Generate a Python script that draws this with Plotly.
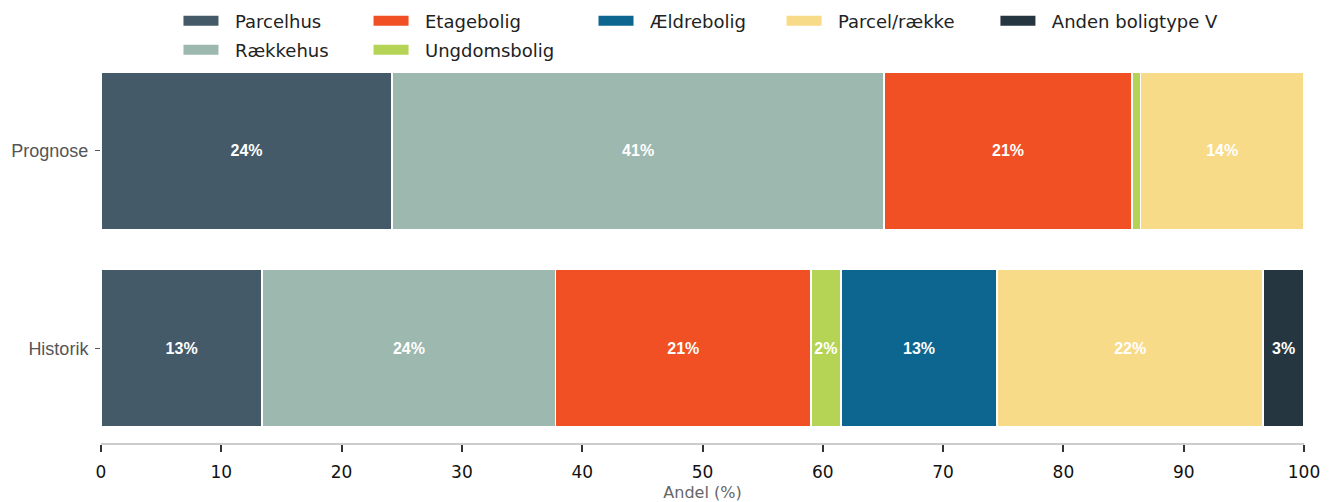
import plotly.graph_objects as go

periods = ["Prognose", "Historik"]
types = ["Parcelhus", "Rækkehus", "Etagebolig", "Ungdomsbolig", "Ældrebolig", "Parcel/række", "Anden boligtype V"]
prognose = [24.2, 40.9, 20.6, 0.7, 0.0, 13.6, 0.0]
historik = [13.4, 24.4, 21.2, 2.5, 13.0, 22.1, 3.4]
colors = ["#445a69", "#9db8af", "#f05023", "#b5d455", "#0c6690", "#f8db88", "#263640"]
x_ticks = [0, 10, 20, 30, 40, 50, 60, 70, 80, 90, 100]

# legend slot per type (matplotlib column-major layout, 5 columns)
legend_pos = {
    "Parcelhus": (0.0644, 1.0793),
    "Rækkehus": (0.0644, 1.0051),
    "Etagebolig": (0.2224, 1.0793),
    "Ungdomsbolig": (0.2224, 1.0051),
    "Ældrebolig": (0.4094, 1.0793),
    "Parcel/række": (0.5657, 1.0793),
    "Anden boligtype V": (0.7435, 1.0793),
}

fig = go.Figure()
legend_layout = {}
for i, t in enumerate(types):
    vals = [prognose[i], historik[i]]
    txt = [f"{v:.0f}%" if v >= 1 else "" for v in vals]
    lname = "legend" if i == 0 else f"legend{i+1}"
    fig.add_trace(go.Bar(
        y=periods, x=vals, name=t, orientation="h",
        marker=dict(color=colors[i], line=dict(color="white", width=1.5)),
        text=txt, textposition="inside", insidetextanchor="middle", textangle=0,
        textfont=dict(family="Liberation Sans, Arial", size=16, color="white", weight="bold"),
        showlegend=False,
    ))
    # legend swatch (wide rectangle like the reference)
    fig.add_trace(go.Scatter(
        x=[None], y=[None], mode="lines", name="\u00a0\u00a0" + t,
        line=dict(color=colors[i], width=12),
        legend=lname, showlegend=True, hoverinfo="skip",
    ))
    lx, ly = legend_pos[t]
    legend_layout[lname] = dict(
        x=lx, y=ly, xanchor="left", yanchor="middle", orientation="v",
        font=dict(family="DejaVu Sans", size=18, color="#222222"),
        bgcolor="rgba(0,0,0,0)", borderwidth=0, itemwidth=35,
    )

fig.update_layout(
    barmode="stack",
    bargap=0.2,
    width=1339, height=502,
    margin=dict(l=93, r=43, t=44, b=67, autoexpand=False),
    plot_bgcolor="white", paper_bgcolor="white",
    showlegend=True,
    **legend_layout,
)
fig.update_xaxes(
    range=[0, 100], tickvals=x_ticks, ticktext=[str(v) for v in x_ticks],
    showgrid=False, zeroline=False,
    showline=True, linecolor="#cccccc", linewidth=2,
    ticks="outside", ticklen=7, tickcolor="#333333", tickwidth=1.5,
    ticklabelstandoff=6,
    tickfont=dict(family="DejaVu Sans", size=17, color="#111111"),
    title=dict(text="Andel (%)", font=dict(family="DejaVu Sans", size=16, color="#666666"), standoff=5),
)
fig.update_yaxes(
    categoryorder="array", categoryarray=["Historik", "Prognose"],
    range=[-0.48, 1.5],
    showgrid=False, zeroline=False, showline=False,
    ticks="outside", ticklen=5, tickcolor="#555555",
    ticklabelstandoff=3,
    tickfont=dict(family="Liberation Sans, Arial", size=18, color="#555555"),
)

fig.write_html("out.html")
